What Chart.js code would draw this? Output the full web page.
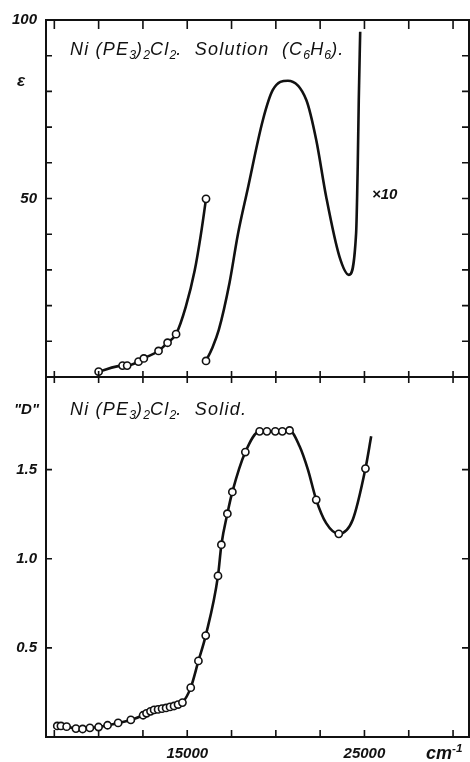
<!DOCTYPE html>
<html>
<head>
<meta charset="utf-8">
<script src="https://cdn.jsdelivr.net/npm/chart.js@4.4.1/dist/chart.umd.min.js"></script>
<style>
  body { margin: 0; background: #fff; width: 470px; height: 762px; overflow: hidden; position: relative;
         font-family: "Liberation Sans", Arial, sans-serif; font-style: italic; color: #111; }
  .box { position: absolute; left: 0; width: 470px; }
  #top { top: 0; height: 380px; }
  #bot { top: 375px; height: 387px; }
  .lbl { position: absolute; white-space: nowrap; line-height: 1; }
  .ttl { font-size: 18px; letter-spacing: 1.2px; }
  sub { font-size: 68%; vertical-align: -0.3em; line-height: 0; letter-spacing: 0; }
  sup { font-size: 65%; vertical-align: 0.6em; line-height: 0; }
</style>
</head>
<body>
<div class="box" id="top"><canvas id="c1" width="470" height="380"></canvas></div>
<div class="box" id="bot"><canvas id="c2" width="470" height="387"></canvas></div>

<div class="lbl ttl" style="left:70px;top:40px">Ni (PE<sub>3</sub>)<sub>2</sub>Cl<sub>2</sub>. &nbsp;Solution &nbsp;(C<sub>6</sub>H<sub>6</sub>).</div>
<div class="lbl ttl" style="left:70px;top:400px">Ni (PE<sub>3</sub>)<sub>2</sub>Cl<sub>2</sub>. &nbsp;Solid.</div>
<div class="lbl" style="left:17px;top:72px;font-size:17px;font-weight:bold">ε</div>
<div class="lbl" style="left:14px;top:401px;font-size:15px;font-weight:bold">"D"</div>
<div class="lbl" style="left:372px;top:186px;font-size:15px;font-weight:bold">×10</div>
<div class="lbl" style="left:426px;top:744px;font-size:18px;font-weight:bold">cm<sup>-1</sup></div>

<script>
// wavenumber ticks (cm-1) shared by both panels
const X_TICKS = [7500, 10000, 12500, 15000, 17500, 20000, 22500, 25000, 27500, 30000];
const X_LABELS = [15000, 25000];

// top panel: solution, measured points (circles)
const solNu  = [10000, 11350, 11610, 12250, 12550, 13380, 13890, 14370, 16060];
const solEps = [1.5, 3.2, 3.2, 4.3, 5.2, 7.3, 9.6, 12.0, 49.9];
// points read along the drawn curve between the circles
const solTraceNu  = [14920, 15420, 15760];
const solTraceEps = [19.7, 29.8, 39.6];

// top panel: x10 band
const bandNu  = [16060, 16400, 16780, 17390, 17860, 18400, 19270, 19830, 20680, 21720, 22280, 22840, 23590, 24120, 24530, 24620, 24680, 24760];
const bandEps = [4.5, 8.0, 13.2, 26.5, 40.0, 52.4, 72.0, 80.4, 83.0, 77.6, 66.4, 50.5, 33.7, 28.6, 40.3, 58.9, 77.6, 96.7];
const EPS_TICKS = [10, 20, 30, 40, 50, 60, 70, 80, 90];
const EPS_LABELS = [50, 100];

// bottom panel: solid, measured points (circles)
const solidNu = [7665, 7873, 8194, 8718, 9096, 9507, 9997, 10504, 11101, 11817, 12510, 12701, 12927, 13130, 13355,
                 13580, 13806, 14031, 14256, 14482, 14730, 15197, 15631, 16042, 16735, 16927, 17265, 17546, 18279,
                 19085, 19496, 19969, 20366, 20775, 22279, 23552, 25056];
const solidD  = [0.062, 0.062, 0.058, 0.047, 0.045, 0.051, 0.056, 0.066, 0.079, 0.096, 0.122, 0.133, 0.144, 0.152, 0.155,
                 0.159, 0.163, 0.169, 0.174, 0.182, 0.193, 0.277, 0.427, 0.569, 0.904, 1.079, 1.253, 1.375, 1.599,
                 1.715, 1.715, 1.715, 1.715, 1.72, 1.331, 1.140, 1.506];
// points read along the curve where there are no circles
const solidTraceNu = [21340, 21810, 22840, 24340, 25380];
const solidTraceD  = [1.631, 1.5, 1.2, 1.219, 1.687];
const D_TICKS = [0.5, 1.0, 1.5];

const INK = "#111";
const FONT = { family: "'Liberation Sans', Arial, sans-serif", size: 15, style: "italic", weight: "bold" };

const pts = (xs, ys) => xs.map((x, i) => ({ x, y: ys[i] }));
const merged = (a, b) => a.concat(b).sort((p, q) => p.x - q.x);

const lineSet = (data) => ({ data, showLine: true, borderColor: INK, borderWidth: 2.6, pointRadius: 0,
  cubicInterpolationMode: "monotone", order: 1 });
const dotSet = (data) => ({ data, showLine: false, pointRadius: 3.6, pointBackgroundColor: "#fff",
  pointBorderColor: INK, pointBorderWidth: 1.6, order: 0 });

// frame with inward ticks and left value labels, like the printed figure
function frameTicks(o) {
  return {
    id: "frameTicks",
    afterDraw(chart) {
      const { ctx, chartArea: a, scales: { x, y } } = chart;
      ctx.save();
      ctx.strokeStyle = INK;
      ctx.lineWidth = 2;
      ctx.strokeRect(a.left, a.top, a.right - a.left, a.bottom - a.top);
      ctx.lineWidth = 1.6;
      ctx.beginPath();
      X_TICKS.forEach((v) => {
        const px = x.getPixelForValue(v);
        if (o.topIn) { ctx.moveTo(px, a.top); ctx.lineTo(px, a.top + o.topIn); }
        if (o.botIn) { ctx.moveTo(px, a.bottom); ctx.lineTo(px, a.bottom - o.botIn); }
      });
      o.yTicks.forEach((v) => {
        const py = y.getPixelForValue(v);
        ctx.moveTo(a.left, py); ctx.lineTo(a.left + 6, py);
        ctx.moveTo(a.right, py); ctx.lineTo(a.right - 7, py);
      });
      ctx.stroke();
      ctx.fillStyle = INK;
      ctx.font = `${FONT.style} ${FONT.weight} ${FONT.size}px ${FONT.family}`;
      ctx.textAlign = "right";
      ctx.textBaseline = "middle";
      o.yLabels.forEach((v) => ctx.fillText(o.fmt(v), a.left - 9, y.getPixelForValue(v)));
      ctx.restore();
    },
  };
}

const xScale = (labels, h) => ({
  type: "linear", min: 7030, max: 30900,
  grid: { display: false, drawTicks: false }, border: { display: false },
  afterBuildTicks: (s) => { s.ticks = labels.map((v) => ({ value: v })); },
  afterFit: (s) => { s.height = h; },
  ticks: { display: labels.length > 0, color: INK, font: FONT, padding: 8, autoSkip: false, maxRotation: 0,
    callback: (v) => String(v) },
});

const yScale = (min, max) => ({
  min, max,
  grid: { display: false, drawTicks: false }, border: { display: false },
  afterFit: (s) => { s.width = 46; },
  ticks: { display: false },
});

const common = {
  responsive: false, animation: false, events: [],
  plugins: { legend: { display: false }, tooltip: { enabled: false } },
};

new Chart(document.getElementById("c1"), {
  type: "scatter",
  data: {
    datasets: [
      dotSet(pts(solNu, solEps)),
      dotSet(pts(bandNu.slice(0, 1), bandEps.slice(0, 1))),
      lineSet(merged(pts(solNu, solEps), pts(solTraceNu, solTraceEps))),
      lineSet(pts(bandNu, bandEps)),
    ],
  },
  options: {
    ...common,
    layout: { autoPadding: false, padding: { top: 20, right: 1, left: 0, bottom: 0 } },
    scales: { x: xScale([], 3), y: yScale(0, 100) },
  },
  plugins: [frameTicks({ topIn: 9, botIn: 6, yTicks: EPS_TICKS, yLabels: EPS_LABELS, fmt: (v) => String(v) })],
});

new Chart(document.getElementById("c2"), {
  type: "scatter",
  data: {
    datasets: [
      dotSet(pts(solidNu, solidD)),
      lineSet(merged(pts(solidNu, solidD), pts(solidTraceNu, solidTraceD))),
    ],
  },
  options: {
    ...common,
    layout: { autoPadding: false, padding: { top: 2, right: 1, left: 0, bottom: 0 } },
    scales: { x: xScale(X_LABELS, 25), y: yScale(0, 2.02) },
  },
  plugins: [frameTicks({ topIn: 6, botIn: 7, yTicks: D_TICKS, yLabels: D_TICKS, fmt: (v) => v.toFixed(1) })],
});
</script>
</body>
</html>
